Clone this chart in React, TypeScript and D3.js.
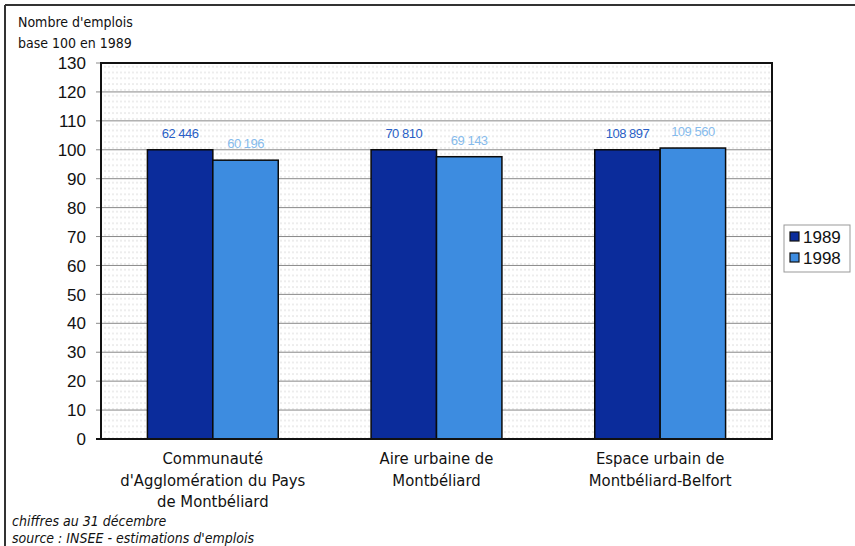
import React from "react";
import * as d3 from "d3";

const categories: string[][] = [
  ["Communauté", "d'Agglomération du Pays", "de Montbéliard"],
  ["Aire urbaine de", "Montbéliard"],
  ["Espace urbain de", "Montbéliard-Belfort"],
];
const seriesNames = ["1989", "1998"];
const values1989 = [100, 100, 100];
const values1998 = [96.4, 97.6, 100.6];
const labels1989 = ["62 446", "70 810", "108 897"];
const labels1998 = ["60 196", "69 143", "109 560"];
const yTicks = [0, 10, 20, 30, 40, 50, 60, 70, 80, 90, 100, 110, 120, 130];

const W = 855;
const H = 546;
const plot = { left: 101, right: 772, top: 63, bottom: 439 };
const colors = ["#0b2c9b", "#3d8ce0"];
const labelColors = ["#2a5fc6", "#86bbec"];

export default function App() {
  const x0 = d3
    .scaleBand<number>()
    .domain(d3.range(categories.length))
    .range([plot.left, plot.right])
    .paddingInner(0.415)
    .paddingOuter(0.2075);
  const x1 = d3.scaleBand<number>().domain([0, 1]).range([0, x0.bandwidth()]);
  const y = d3.scaleLinear().domain([0, 130]).range([plot.bottom, plot.top]);
  const series = [values1989, values1998];
  const labels = [labels1989, labels1998];
  const condensed = "'DejaVu Sans Condensed', 'DejaVu Sans', sans-serif";

  return (
    <svg width={W} height={H} style={{ position: "absolute", left: 0, top: 0, background: "#fff" }}>
      <defs>
        <pattern id="dots" patternUnits="userSpaceOnUse" width={4} height={5.8}>
          <line x1={0} x2={2} y1={2.9} y2={2.9} stroke="#dcdcdc" strokeWidth={1} />
        </pattern>
      </defs>
      {/* outer frame */}
      <line x1={5} x2={W} y1={5} y2={5} stroke="#333" strokeWidth={2} />
      <line x1={5} x2={5} y1={5} y2={H} stroke="#333" strokeWidth={2} />

      {/* title */}
      <text x={18} y={27} fontFamily={condensed} fontSize={14} fill="#111">Nombre d'emplois</text>
      <text x={18} y={48} fontFamily={condensed} fontSize={14} fill="#111">base 100 en 1989</text>

      {/* plot background */}
      <rect x={plot.left} y={plot.top} width={plot.right - plot.left} height={plot.bottom - plot.top} fill="#fff" />
      <rect x={plot.left} y={plot.top} width={plot.right - plot.left} height={plot.bottom - plot.top} fill="url(#dots)" />

      {/* gridlines + ticks */}
      {yTicks.map((t) => (
        <g key={t}>
          <line x1={plot.left - 5} x2={plot.right} y1={y(t)} y2={y(t)} stroke={t === 0 ? "#111" : "#8a8a8a"} strokeWidth={t === 0 ? 2 : 1} />
          <text x={86} y={y(t)} dy="0.36em" textAnchor="end" fontFamily="Arial, 'Liberation Sans', sans-serif" fontSize={17} fill="#111">
            {t}
          </text>
        </g>
      ))}

      {/* bars */}
      {series.map((vals, s) =>
        vals.map((v, i) => {
          const bx = (x0(i) as number) + (x1(s) as number);
          return (
            <g key={`${s}-${i}`}>
              <rect x={bx} y={y(v)} width={x1.bandwidth()} height={plot.bottom - y(v)} fill={colors[s]} stroke="#0a0a0a" strokeWidth={1.5} />
              <text x={bx + x1.bandwidth() / 2} y={y(v) - 12} textAnchor="middle" fontFamily="Arial, 'Liberation Sans', sans-serif" fontSize={13} letterSpacing={-0.5} fill={labelColors[s]}>
                {labels[s][i]}
              </text>
            </g>
          );
        })
      )}

      {/* plot border */}
      <rect x={plot.left} y={plot.top} width={plot.right - plot.left} height={plot.bottom - plot.top} fill="none" stroke="#111" strokeWidth={2} />

      {/* category labels */}
      {categories.map((lines, i) => (
        <text key={i} textAnchor="middle" fontFamily={condensed} fontSize={16.5} fill="#111">
          {lines.map((l, j) => (
            <tspan key={j} x={(x0(i) as number) + x0.bandwidth() / 2} y={464 + j * 21.5}>
              {l}
            </tspan>
          ))}
        </text>
      ))}

      {/* legend */}
      <rect x={784} y={225} width={66} height={47} fill="#fff" stroke="#999" strokeWidth={1} />
      {seriesNames.map((n, s) => (
        <g key={n}>
          <rect x={790} y={232 + s * 21} width={9} height={9} fill={colors[s]} stroke="#111" strokeWidth={1.2} />
          <text x={803} y={237 + s * 21} dy="0.36em" fontFamily="Arial, 'Liberation Sans', sans-serif" fontSize={17} fill="#111">
            {n}
          </text>
        </g>
      ))}

      {/* footnotes */}
      <text x={12} y={526} fontFamily={condensed} fontStyle="italic" fontSize={14} fill="#111">chiffres au 31 décembre</text>
      <text x={12} y={543} fontFamily={condensed} fontStyle="italic" fontSize={14} fill="#111">source : INSEE - estimations d'emplois</text>
    </svg>
  );
}
